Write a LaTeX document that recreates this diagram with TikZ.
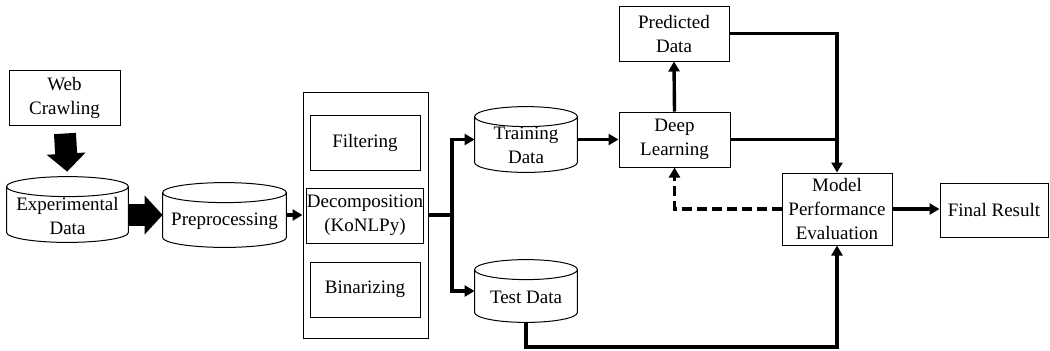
\documentclass[tikz,border=0pt]{standalone}
\usepackage{fontspec}
\setmainfont{Liberation Serif}
\usetikzlibrary{arrows.meta,calc}

% outline of a data store drawn round an (invisible) node
\newcommand{\drawdb}[1]{%
  \draw[line width=0.5pt] let \p1=(#1.north west), \p2=(#1.south east), \n1={(\x2-\x1)/2} in
    (\x1,\y1-5pt) -- (\x1,\y2+5pt)
    arc[start angle=180, end angle=360, x radius=\n1, y radius=5pt]
    -- (\x2,\y1-5pt)
    arc[start angle=0, end angle=360, x radius=\n1, y radius=5pt];
}

\tikzset{
  box/.style={draw, line width=0.5pt, align=center, inner sep=0pt, font=\fontsize{9.5}{12}\selectfont},
  dbnode/.style={inner sep=0pt},
  dbtext/.style={align=center, inner sep=0pt, yshift=-3pt, font=\fontsize{9.5}{12}\selectfont},
  flow/.style={line width=1.7pt, -{Triangle[length=5pt, width=5.5pt]}},
  bigflow/.style={line width=11pt, -{Triangle[length=9pt, width=19pt]}}
}

\begin{document}
\begin{tikzpicture}[x=0.5pt, y=-0.5pt]
    \useasboundingbox (0,0) rectangle (1050,350);
    % sources
    \node[box, minimum width=55.5pt, minimum height=27.5pt] (webcrawl) at (64.5,97.5) {Web\\Crawling};
    \node[dbnode, minimum width=60.5pt, minimum height=32.5pt,
          label={[dbtext]center:{Experimental\\Data}}] (expdata) at (67.5,209.5) {};
    \node[dbnode, minimum width=61.5pt, minimum height=32pt,
          label={[dbtext]center:Preprocessing}] (prep) at (224.5,215) {};
    % preprocessing steps
    \node[box, minimum width=62.5pt, minimum height=123pt] (procbox) at (365.5,215) {};
    \node[box, minimum width=55pt, minimum height=27.5pt] (filt) at (365,142.5) {Filtering};
    \node[box, minimum width=55pt, minimum height=27.5pt] (decomp) at (365,215.5) {Decomposition\\(KoNLPy)};
    \node[box, minimum width=55pt, minimum height=27.5pt] (binar) at (365,289.5) {Binarizing};
    % data split
    \node[dbnode, minimum width=51pt, minimum height=32.5pt,
          label={[dbtext]center:{Training\\Data}}] (train) at (526,139.5) {};
    \node[dbnode, minimum width=51pt, minimum height=31pt,
          label={[dbtext]center:Test Data}] (test) at (526,291) {};
    % model
    \node[box, minimum width=55.5pt, minimum height=27.5pt] (deep) at (674.5,139.5) {Deep\\Learning};
    \node[box, minimum width=55pt, minimum height=27.5pt] (pred) at (674,33.5) {Predicted\\Data};
    \node[box, minimum width=55pt, minimum height=36pt] (model) at (837,209) {Model\\Performance\\Evaluation};
    \node[box, minimum width=54pt, minimum height=27pt] (final) at (994,210) {Final Result};
    \foreach \db in {expdata,prep,train,test} {\drawdb{\db}}

    \coordinate (split) at (452,215);
    \coordinate (bottom) at (0,347);

    \draw[bigflow, shorten <=4pt, shorten >=2.5pt] (webcrawl.south) -- (expdata.north);
    \draw[bigflow] (expdata.east |- prep.west) -- (prep.west);
    \draw[flow] (prep.east) -- (procbox.west |- prep.east);
    \draw[line width=1.7pt] (procbox.east) -- (split);
    \draw[flow] (split) |- (train.west);
    \draw[flow] (split) |- (test.west);
    \draw[flow] (train.east) -- (deep.west);
    \draw[flow] (deep.north) -- (pred.south);
    \draw[flow] (pred.east) -| (model.north);
    \draw[line width=1.7pt] (deep.east) -- (deep.east -| model.north);
    \draw[flow, dash pattern=on 5pt off 2.5pt] (model.west) -| (deep.south);
    \draw[flow] (model.east) -- (model.east -| final.west);
    \draw[flow] (test.south) -- (test.south |- bottom) -| (model.south);
\end{tikzpicture}
\end{document}
